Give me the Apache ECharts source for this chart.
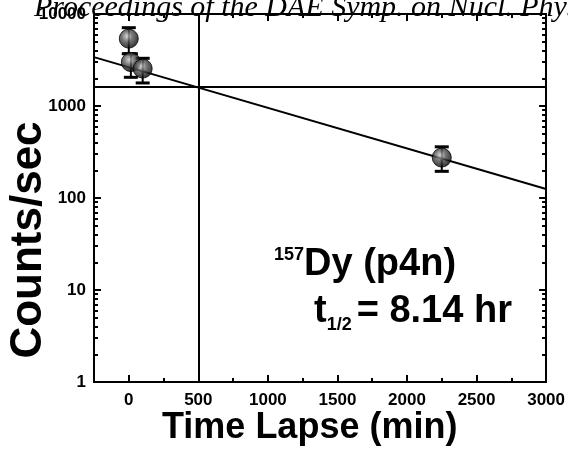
<!DOCTYPE html>
<html>
<head>
<meta charset="utf-8">
<script src="https://cdn.jsdelivr.net/npm/echarts@6/dist/echarts.min.js"></script>
<style>
html, body { margin: 0; padding: 0; background: #fff; }
#main { width: 568px; height: 459px; }
</style>
</head>
<body>
<div id="main"></div>
<script>
// measured points (time in min, counts/sec)
var times = [0, 15, 100, 2250];
var counts = [5400, 3000, 2550, 275];
var errLow = [3700, 2050, 1780, 195];
var errHigh = [7100, 3700, 3300, 360];

// decay fit line and the two reference lines
var fitX = [-250, 3000];
var fitY = [3400, 125];
var refX = 500;
var refY = 1600;

// ticks
var xMajor = [0, 500, 1000, 1500, 2000, 2500, 3000];
var xMinor = [250, 750, 1250, 1750, 2250, 2750];
var yMajor = [1, 10, 100, 1000, 10000];
var yMinor = [2, 3, 4, 5, 6, 7, 8, 9, 20, 30, 40, 50, 60, 70, 80, 90,
    200, 300, 400, 500, 600, 700, 800, 900, 2000, 3000, 4000, 5000, 6000, 7000, 8000, 9000];

var labelFont = { color: '#000', fontFamily: 'Liberation Sans', fontWeight: 'bold', fontSize: 17 };
var black = { color: '#000', width: 2 };
function plain(v) { return String(v); }

function xAx(pos, ticks, len, withLabel) {
    return {
        type: 'value', position: pos, min: -250, max: 3000,
        axisLine: { show: true, onZero: false, lineStyle: black },
        axisTick: { show: true, inside: true, length: len, customValues: ticks, lineStyle: black },
        axisLabel: withLabel ? Object.assign({ show: true, margin: 10, customValues: xMajor, formatter: plain }, labelFont) : { show: false },
        splitLine: { show: false }
    };
}
function yAx(pos, ticks, len, withLabel) {
    return {
        type: 'log', position: pos, min: 1, max: 10000, logBase: 10,
        axisLine: { show: true, onZero: false, lineStyle: black },
        axisTick: { show: true, inside: true, length: len, customValues: ticks, lineStyle: black },
        axisLabel: withLabel ? Object.assign({ show: true, margin: 8, formatter: plain }, labelFont) : { show: false },
        splitLine: { show: false }
    };
}

var pts = times.map(function(t, i) { return [t, counts[i]]; });
var bars = times.map(function(t, i) { return [t, errLow[i], errHigh[i]]; });

var myChart = echarts.init(document.getElementById('main'));
var option = {
    backgroundColor: '#fff',
    animation: false,
    grid: { left: 94, right: 19, top: 14, bottom: 77 },
    xAxis: [
        xAx('bottom', xMajor, 7, true),
        xAx('bottom', xMinor, 4, false),
        xAx('top', xMajor, 7, false),
        xAx('top', xMinor, 4, false)
    ],
    yAxis: [
        yAx('left', yMajor, 7, true),
        yAx('left', yMinor, 4, false),
        yAx('right', yMajor, 7, false),
        yAx('right', yMinor, 4, false)
    ],
    graphic: [
        { type: 'text', left: 34, top: -7, z: 100,
          style: { text: 'Proceedings of the DAE Symp. on Nucl. Phys', font: 'italic 30px "Liberation Serif"', fill: '#000' } },
        { type: 'text', x: 29, y: 240, rotation: Math.PI / 2, z: 100,
          style: { text: 'Counts/sec', font: 'bold 44px "Liberation Sans"', fill: '#000', align: 'center', verticalAlign: 'middle' } },
        { type: 'text', left: 162, top: 410, z: 100,
          style: { text: 'Time Lapse (min)', font: 'bold 36px "Liberation Sans"', fill: '#000' } },
        { type: 'text', left: 274, top: 246, z: 100,
          style: { text: '{s|157}{b|Dy (p4n)}', fill: '#000',
                   rich: { s: { font: 'bold 18px "Liberation Sans"', verticalAlign: 'top', padding: [0, 0, 16, 0] },
                           b: { font: 'bold 38px "Liberation Sans"' } } } },
        { type: 'text', left: 314, top: 293, z: 100,
          style: { text: '{b|t}{s|1/2}{b|= 8.14 hr}', fill: '#000',
                   rich: { s: { font: 'bold 18px "Liberation Sans"', padding: [26, 5, 0, 0] },
                           b: { font: 'bold 38px "Liberation Sans"' } } } }
    ],
    series: [
        {
            type: 'line', data: [[fitX[0], fitY[0]], [fitX[1], fitY[1]]],
            showSymbol: false, symbol: 'none', lineStyle: { color: '#000', width: 2 }, z: 2,
            markLine: {
                silent: true, symbol: 'none', label: { show: false },
                lineStyle: { color: '#000', width: 2, type: 'solid' },
                data: [{ xAxis: refX }, { yAxis: refY }]
            }
        },
        {
            type: 'custom', data: bars, z: 3,
            encode: { x: 0, y: [1, 2] },
            renderItem: function(params, api) {
                var x = api.value(0);
                var top = api.coord([x, api.value(2)]);
                var bot = api.coord([x, api.value(1)]);
                var w = 7;
                var cap = { stroke: '#000', lineWidth: 3 };
                return {
                    type: 'group',
                    children: [
                        { type: 'line', shape: { x1: top[0], y1: top[1], x2: bot[0], y2: bot[1] }, style: { stroke: '#000', lineWidth: 2 } },
                        { type: 'line', shape: { x1: top[0] - w, y1: top[1], x2: top[0] + w, y2: top[1] }, style: cap },
                        { type: 'line', shape: { x1: bot[0] - w, y1: bot[1], x2: bot[0] + w, y2: bot[1] }, style: cap }
                    ]
                };
            }
        },
        {
            type: 'scatter', data: pts, symbol: 'circle', symbolSize: 19, z: 4,
            itemStyle: {
                color: {
                    type: 'radial', x: 0.42, y: 0.38, r: 0.6,
                    colorStops: [
                        { offset: 0, color: '#cfcfcf' },
                        { offset: 0.45, color: '#555' },
                        { offset: 1, color: '#050505' }
                    ]
                },
                borderColor: '#000', borderWidth: 1
            }
        }
    ]
};
myChart.setOption(option, true);
</script>
</body>
</html>
